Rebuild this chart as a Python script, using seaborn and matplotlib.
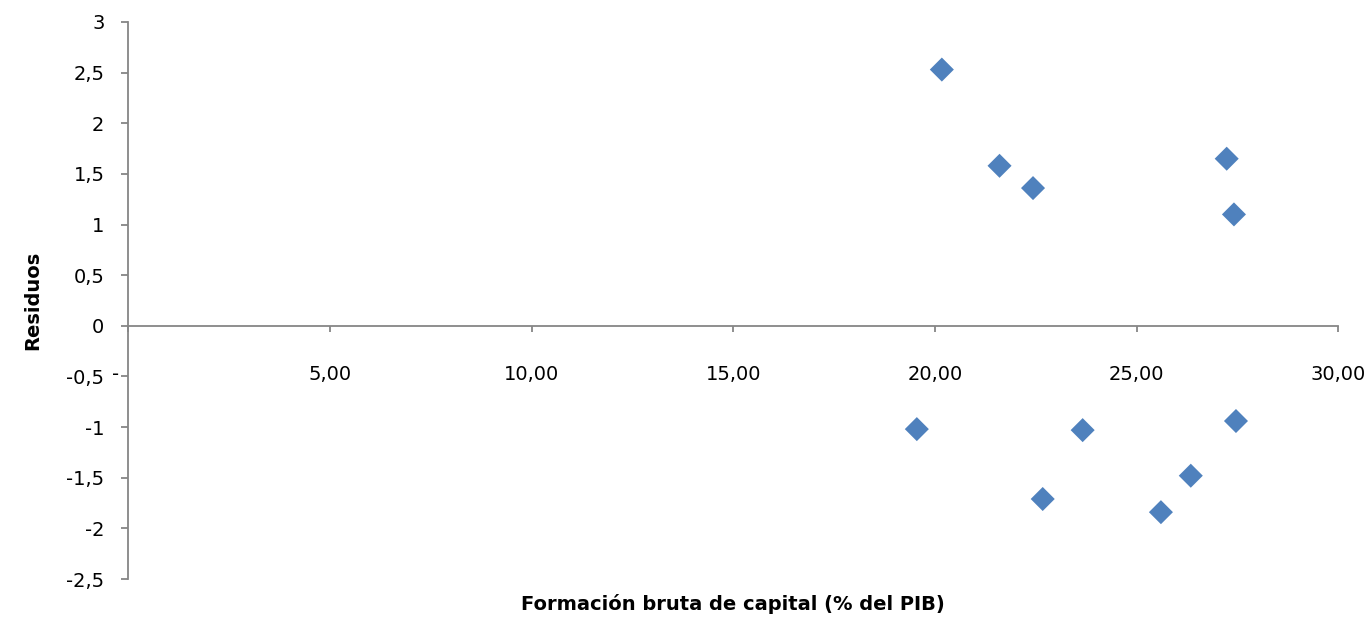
import numpy as np
import pandas as pd
import matplotlib
matplotlib.use('Agg')
import matplotlib.pyplot as plt
import seaborn as sns

sns.set_style('white')
plt.rcParams['font.family'] = ['DejaVu Sans']

# Data
fbk = [20.17, 21.60, 22.43, 27.23, 27.41, 19.55, 23.66, 27.46, 22.67, 26.34, 25.60]
residuos = [2.53, 1.58, 1.36, 1.65, 1.10, -1.02, -1.03, -0.94, -1.71, -1.48, -1.84]

x_ticks = [0, 5, 10, 15, 20, 25, 30]
x_labels = ['-    ', '5,00', '10,00', '15,00', '20,00', '25,00', '30,00']
y_ticks = [-2.5, -2, -1.5, -1, -0.5, 0, 0.5, 1, 1.5, 2, 2.5, 3]
y_labels = ['-2,5', '-2', '-1,5', '-1', '-0,5', '0', '0,5', '1', '1,5', '2', '2,5', '3']

df = pd.DataFrame({'x': fbk, 'y': residuos})

fig = plt.figure(figsize=(13.68, 6.19), dpi=100)
ax = fig.add_axes([0.0936, 0.0646, 0.8848, 0.8999])

sns.scatterplot(data=df, x='x', y='y', marker='D', s=150, color='#4F81BD',
                edgecolor='none', ax=ax, zorder=3)

ax.set_xlim(0, 30)
ax.set_ylim(-2.5, 3)

grey = '#868686'
for side in ['top', 'right']:
    ax.spines[side].set_visible(False)
ax.spines['bottom'].set_position(('data', 0))
for side in ['bottom', 'left']:
    ax.spines[side].set_color(grey)
    ax.spines[side].set_linewidth(1.3)

ax.set_xticks(x_ticks)
ax.set_xticklabels(x_labels)
ax.set_yticks(y_ticks)
ax.set_yticklabels(y_labels)
ax.tick_params(axis='x', bottom=True, direction='out', length=4.5, width=1.3,
               color=grey, pad=24, labelsize=14, labelcolor='black')
ax.tick_params(axis='y', left=True, direction='out', length=5, width=1.3,
               color=grey, pad=12, labelsize=14, labelcolor='black')

lab_font = ['Liberation Sans Narrow', 'DejaVu Sans']
ax.set_xlabel('Formación bruta de capital (% del PIB)', fontsize=14,
              fontweight='bold', family=lab_font, color='black', va='center')
ax.xaxis.set_label_coords(0.5, -0.045)
ax.set_ylabel('Residuos', fontsize=14, fontweight='bold', family=lab_font,
              color='black', va='center')
ax.yaxis.set_label_coords(-0.079, 0.5)

fig.savefig('out.png', dpi=100)
